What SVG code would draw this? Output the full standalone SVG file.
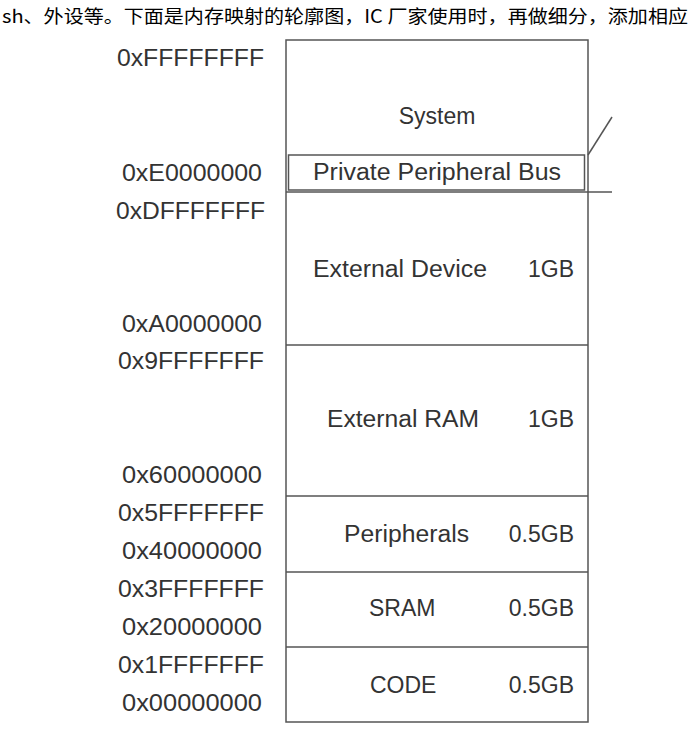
<svg xmlns="http://www.w3.org/2000/svg" width="688" height="750" viewBox="0 0 688 750">
<style>
.a{font-family:"Liberation Sans",Arial,sans-serif;font-size:23px;fill:#333;text-anchor:end}
.t{font-family:"Liberation Sans",Arial,sans-serif;font-size:23px;fill:#333}
.m{text-anchor:middle}
.e{text-anchor:end}
.b{fill:none;stroke:#555;stroke-width:1.5}
</style>
<rect width="688" height="750" fill="#fff"/>
<text x="2" y="23" textLength="686" lengthAdjust="spacingAndGlyphs" style="font-family:'Noto Sans CJK SC',sans-serif;font-size:18px;fill:#000">sh、外设等。下面是内存映射的轮廓图，IC 厂家使用时，再做细分，添加相应</text>
<g id="map">
<rect class="b" x="286" y="40" width="302" height="682"/>
<rect class="b" x="288.5" y="155" width="296" height="35"/>
<line class="b" x1="286" y1="192" x2="612" y2="192"/>
<line class="b" x1="588" y1="155" x2="612" y2="117"/>
<line class="b" x1="286" y1="345" x2="588" y2="345"/>
<line class="b" x1="286" y1="496" x2="588" y2="496"/>
<line class="b" x1="286" y1="572" x2="588" y2="572"/>
<line class="b" x1="286" y1="647" x2="588" y2="647"/>
</g>
<g id="labels">
<text class="t m" x="437" y="124">System</text>
<text class="t" x="313" y="180" textLength="248" lengthAdjust="spacingAndGlyphs">Private Peripheral Bus</text>
<text class="t" x="313" y="277" textLength="174" lengthAdjust="spacingAndGlyphs">External Device</text>
<text class="t e" x="574" y="277">1GB</text>
<text class="t" x="327" y="427" textLength="152" lengthAdjust="spacingAndGlyphs">External RAM</text>
<text class="t e" x="574" y="427">1GB</text>
<text class="t" x="344" y="542" textLength="125" lengthAdjust="spacingAndGlyphs">Peripherals</text>
<text class="t e" x="574" y="542">0.5GB</text>
<text class="t" x="369" y="616">SRAM</text>
<text class="t e" x="574" y="616">0.5GB</text>
<text class="t" x="370" y="693">CODE</text>
<text class="t e" x="574" y="693">0.5GB</text>
</g>
<g id="addr">
<text class="a" x="264" y="66" textLength="147" lengthAdjust="spacingAndGlyphs">0xFFFFFFFF</text>
<text class="a" x="262" y="181" textLength="140" lengthAdjust="spacingAndGlyphs">0xE0000000</text>
<text class="a" x="265" y="219" textLength="149" lengthAdjust="spacingAndGlyphs">0xDFFFFFFF</text>
<text class="a" x="262" y="332" textLength="140" lengthAdjust="spacingAndGlyphs">0xA0000000</text>
<text class="a" x="264" y="369" textLength="146" lengthAdjust="spacingAndGlyphs">0x9FFFFFFF</text>
<text class="a" x="262" y="483" textLength="140" lengthAdjust="spacingAndGlyphs">0x60000000</text>
<text class="a" x="264" y="521" textLength="146" lengthAdjust="spacingAndGlyphs">0x5FFFFFFF</text>
<text class="a" x="262" y="559" textLength="140" lengthAdjust="spacingAndGlyphs">0x40000000</text>
<text class="a" x="264" y="597" textLength="146" lengthAdjust="spacingAndGlyphs">0x3FFFFFFF</text>
<text class="a" x="262" y="635" textLength="140" lengthAdjust="spacingAndGlyphs">0x20000000</text>
<text class="a" x="264" y="673" textLength="146" lengthAdjust="spacingAndGlyphs">0x1FFFFFFF</text>
<text class="a" x="262" y="711" textLength="140" lengthAdjust="spacingAndGlyphs">0x00000000</text>
</g>
</svg>
